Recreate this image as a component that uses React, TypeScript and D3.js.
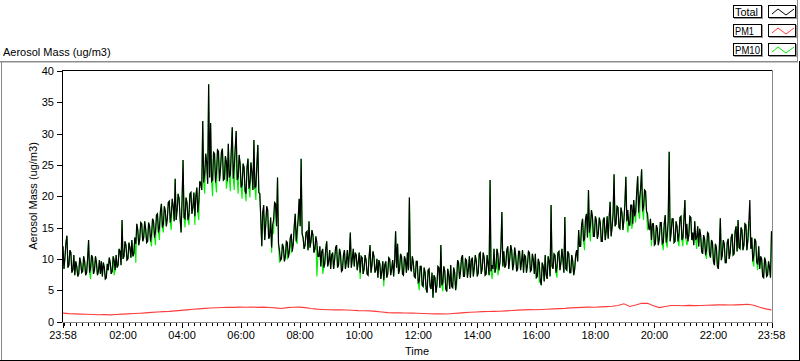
import React from "react";
import * as d3 from "d3";

// Total aerosol mass, one value every 2 minutes starting 23:58 (ug/m3)
const TOTAL_STEP_MIN = 2;
const totalVals = [
  12.0, 8.4, 10.2, 12.6, 13.7, 8.6, 9.0, 11.4, 11.0, 7.8, 8.2, 10.6, 7.4, 9.6, 8.8, 7.2, 7.6, 10.2, 9.4, 7.8,
  8.0, 10.4, 9.6, 7.4, 7.8, 10.0, 13.0, 7.8, 8.5, 10.6, 10.2, 7.6, 8.2, 10.4, 9.4, 7.4, 8.0, 9.8, 7.6, 9.6,
  7.2, 9.4, 8.6, 6.8, 7.0, 9.2, 8.2, 10.2, 9.4, 7.6, 8.0, 10.4, 9.8, 8.2, 10.6, 8.6, 9.0, 11.6, 11.2, 9.0,
  16.2, 10.0, 10.4, 12.8, 12.2, 9.8, 10.0, 12.6, 11.8, 10.2, 13.0, 10.4, 10.8, 13.4, 12.4, 15.6, 14.6, 12.2, 13.2, 15.8,
  15.6, 12.8, 13.4, 16.0, 14.8, 12.6, 12.8, 15.8, 15.2, 12.8, 14.0, 16.4, 16.0, 13.4, 14.4, 17.0, 17.2, 14.2, 15.0, 17.6,
  18.8, 15.0, 15.6, 18.4, 17.6, 15.2, 16.4, 19.0, 19.2, 15.8, 17.0, 19.6, 18.4, 16.0, 22.8, 16.2, 17.8, 20.4, 19.6, 16.4,
  14.2, 19.4, 25.8, 16.6, 16.4, 19.8, 19.0, 16.2, 17.0, 20.4, 20.6, 17.2, 18.2, 20.6, 16.8, 20.0, 21.4, 17.4, 19.2, 22.4,
  22.0, 21.0, 32.0, 22.2, 23.6, 26.8, 25.4, 22.0, 37.9, 23.0, 31.7, 22.4, 22.6, 27.0, 26.8, 22.2, 23.8, 27.4, 27.2, 22.4,
  24.2, 27.0, 27.6, 22.6, 22.8, 26.4, 25.6, 22.4, 28.4, 23.0, 23.4, 27.2, 31.0, 22.8, 24.8, 27.6, 30.4, 22.6, 23.0, 26.6,
  25.2, 21.4, 21.8, 25.2, 24.6, 20.8, 20.4, 24.6, 26.0, 21.2, 22.2, 25.4, 23.8, 21.0, 29.0, 21.4, 21.6, 25.0, 28.2, 20.6,
  20.4, 16.4, 12.0, 17.6, 18.6, 13.0, 15.4, 18.4, 17.8, 13.2, 13.6, 16.6, 11.8, 15.4, 16.2, 19.0, 18.8, 15.2, 23.0, 12.4,
  11.4, 9.8, 10.0, 12.4, 11.8, 9.6, 10.4, 12.8, 12.6, 10.2, 11.2, 13.4, 14.0, 11.2, 12.4, 15.2, 17.2, 12.8, 14.6, 16.4,
  19.6, 15.2, 26.0, 14.0, 13.4, 11.6, 12.2, 14.2, 14.4, 11.4, 16.0, 11.8, 12.8, 14.6, 13.8, 11.0, 11.6, 13.6, 12.6, 10.4,
  10.4, 12.0, 8.8, 11.2, 11.6, 8.6, 9.2, 11.6, 12.8, 8.8, 9.6, 11.4, 8.4, 10.6, 11.0, 8.4, 9.8, 11.8, 12.2, 8.6,
  9.0, 11.6, 10.8, 8.0, 8.2, 10.6, 11.4, 8.4, 9.6, 11.4, 8.6, 10.8, 14.2, 8.6, 10.0, 11.6, 8.8, 11.0, 10.6, 8.2,
  9.4, 11.0, 7.8, 10.4, 10.2, 7.6, 8.4, 10.6, 9.8, 7.6, 7.4, 10.2, 12.2, 7.8, 9.0, 11.2, 10.4, 7.8, 8.2, 10.0,
  7.0, 9.8, 9.2, 6.8, 8.0, 9.6, 6.6, 9.0, 9.6, 7.0, 7.6, 10.2, 10.0, 7.4, 8.4, 9.8, 7.2, 9.6, 14.4, 8.6,
  12.4, 7.6, 8.2, 10.8, 10.4, 7.6, 7.4, 10.4, 9.8, 7.8, 11.0, 8.2, 19.8, 8.6, 8.0, 10.4, 9.4, 7.2, 7.0, 9.6,
  9.6, 6.2, 6.4, 8.8, 8.8, 5.8, 5.6, 8.6, 7.8, 5.2, 4.6, 8.2, 8.4, 5.6, 5.2, 7.8, 3.8, 7.4, 7.0, 4.6,
  5.8, 8.8, 8.6, 5.4, 12.2, 5.8, 6.2, 8.8, 8.0, 5.2, 4.8, 8.4, 7.4, 5.2, 9.0, 5.6, 5.4, 8.6, 7.8, 5.0,
  6.6, 9.8, 9.4, 6.8, 8.0, 10.2, 10.6, 7.2, 7.2, 10.0, 9.8, 7.0, 8.4, 10.4, 7.0, 9.8, 10.2, 7.2, 8.6, 10.6,
  9.6, 7.2, 7.8, 10.8, 11.0, 7.6, 8.4, 11.0, 10.2, 7.4, 7.6, 10.6, 9.2, 7.4, 22.6, 8.0, 9.0, 8.4, 11.6, 7.8,
  8.6, 11.6, 10.8, 8.2, 9.4, 11.8, 17.5, 8.8, 11.2, 8.6, 9.0, 11.4, 12.0, 8.4, 10.0, 12.2, 11.4, 8.2, 9.2, 11.8,
  10.6, 8.0, 8.4, 11.2, 11.2, 8.2, 9.6, 11.4, 7.8, 10.6, 10.4, 7.8, 9.0, 11.2, 11.0, 8.0, 8.2, 10.8, 9.8, 7.6,
  10.8, 7.0, 7.2, 10.0, 9.4, 6.6, 5.8, 9.4, 8.8, 6.4, 10.6, 7.4, 6.8, 10.4, 9.6, 7.2, 18.6, 8.8, 8.4, 10.8,
  10.6, 7.8, 8.8, 11.0, 11.2, 8.2, 9.4, 11.6, 10.0, 7.8, 16.7, 8.4, 8.2, 11.2, 10.8, 7.8, 7.8, 10.6, 9.6, 7.4,
  8.4, 10.6, 11.4, 9.6, 14.6, 12.0, 12.0, 15.4, 16.4, 12.8, 13.2, 16.4, 17.2, 13.4, 21.0, 14.2, 15.4, 17.8, 16.8, 13.6,
  13.6, 16.8, 16.2, 13.2, 14.0, 16.6, 15.8, 12.8, 12.8, 16.2, 16.6, 13.0, 14.4, 16.8, 13.2, 16.6, 19.1, 13.6, 15.0, 17.2,
  23.5, 15.2, 15.6, 18.4, 18.2, 15.0, 14.8, 18.2, 17.4, 14.6, 16.2, 18.8, 23.1, 16.0, 17.8, 15.4, 15.4, 18.6, 18.6, 15.6,
  19.4, 16.8, 17.6, 20.6, 23.2, 17.4, 19.8, 21.2, 24.3, 17.6, 18.4, 21.0, 20.8, 17.6, 17.2, 15.2, 14.6, 16.4, 13.0, 15.6,
  15.6, 12.2, 12.4, 15.4, 14.8, 12.2, 13.2, 15.8, 15.8, 12.4, 12.6, 15.6, 17.0, 12.6, 13.8, 16.0, 27.1, 12.8, 14.2, 16.4,
  16.4, 12.6, 12.8, 16.0, 15.2, 12.8, 14.0, 16.6, 16.8, 13.0, 13.4, 16.4, 19.4, 13.2, 15.6, 12.8, 13.8, 16.8, 16.6, 13.0,
  14.2, 12.2, 16.0, 13.0, 13.4, 15.2, 12.0, 14.8, 13.8, 11.2, 10.8, 13.8, 13.2, 10.6, 11.4, 14.2, 14.0, 10.8, 10.2, 13.0,
  12.6, 9.6, 9.0, 12.4, 11.8, 8.8, 8.4, 11.8, 16.5, 9.8, 10.6, 13.0, 12.4, 9.4, 9.4, 12.6, 13.2, 10.0, 11.0, 13.4,
  14.0, 10.6, 10.8, 14.4, 15.2, 11.2, 16.2, 11.8, 11.6, 15.0, 14.6, 11.4, 12.2, 15.6, 15.4, 11.4, 13.0, 16.0, 19.4, 11.6,
  13.4, 9.6, 10.6, 13.2, 12.8, 9.4, 9.2, 12.0, 8.4, 10.4, 10.0, 7.2, 7.0, 10.2, 9.6, 7.2, 7.4, 9.6, 8.6, 7.0,
  14.4,
];

// PM10, same 2-minute sampling
const pm10Vals = [
  12.0, 8.4, 10.2, 12.6, 13.7, 8.6, 9.0, 11.4, 11.0, 7.8, 8.2, 10.6, 7.4, 9.6, 8.8, 7.2, 7.6, 10.2, 9.4, 7.8,
  8.0, 10.4, 9.6, 7.4, 7.8, 10.0, 13.0, 7.8, 6.8, 10.6, 10.2, 7.6, 8.2, 10.4, 9.4, 7.4, 8.0, 9.8, 7.6, 9.6,
  7.2, 9.4, 8.6, 6.8, 7.0, 9.2, 8.2, 10.2, 9.4, 7.6, 8.0, 10.4, 7.4, 8.2, 10.6, 8.6, 9.0, 11.6, 11.2, 9.0,
  16.2, 10.0, 10.4, 12.8, 12.2, 9.8, 10.0, 12.6, 11.8, 10.2, 13.0, 10.4, 10.8, 13.4, 9.4, 15.6, 14.6, 12.2, 13.2, 15.8,
  15.6, 12.8, 13.4, 16.0, 14.8, 12.6, 12.8, 15.8, 15.2, 12.8, 12.0, 16.4, 16.0, 13.4, 12.2, 17.0, 17.2, 14.2, 13.0, 17.6,
  18.8, 15.0, 14.2, 18.4, 17.6, 15.2, 16.4, 19.0, 19.2, 15.8, 14.6, 19.6, 18.4, 16.0, 22.8, 16.2, 17.8, 20.4, 19.6, 16.4,
  14.2, 19.4, 25.8, 16.6, 15.0, 19.8, 19.0, 16.2, 15.4, 20.4, 20.6, 17.2, 18.2, 20.6, 15.4, 20.0, 21.4, 17.4, 16.2, 22.4,
  22.0, 21.0, 32.0, 22.2, 20.4, 26.8, 25.4, 22.0, 37.9, 23.0, 31.7, 22.4, 20.0, 27.0, 26.8, 22.2, 20.6, 27.4, 27.2, 22.4,
  24.2, 27.0, 27.6, 22.6, 22.8, 26.4, 21.2, 22.4, 28.4, 23.0, 20.8, 27.2, 31.0, 22.8, 21.0, 27.6, 30.4, 22.6, 20.4, 26.6,
  25.2, 21.4, 19.6, 25.2, 24.6, 20.8, 19.2, 24.6, 26.0, 21.2, 19.8, 25.4, 23.8, 21.0, 29.0, 21.4, 19.4, 25.0, 28.2, 20.6,
  20.4, 16.4, 12.0, 17.6, 16.8, 13.0, 15.4, 18.4, 17.8, 13.2, 13.6, 16.6, 11.0, 15.4, 14.0, 19.0, 18.8, 15.2, 23.0, 12.4,
  9.4, 9.8, 10.0, 12.4, 11.8, 9.6, 10.4, 12.8, 10.0, 10.2, 11.2, 13.4, 11.0, 11.2, 12.4, 15.2, 17.2, 12.8, 12.4, 16.4,
  19.6, 15.2, 26.0, 14.0, 13.4, 11.6, 12.2, 14.2, 14.4, 11.4, 16.0, 11.8, 12.8, 14.6, 13.8, 11.0, 11.6, 13.6, 7.2, 10.4,
  10.4, 12.0, 8.8, 11.2, 7.6, 8.6, 9.2, 11.6, 12.8, 8.8, 9.6, 11.4, 8.4, 10.6, 11.0, 8.4, 9.8, 11.8, 12.2, 8.6,
  9.0, 11.6, 10.8, 8.0, 8.2, 10.6, 11.4, 8.4, 9.6, 11.4, 8.6, 10.8, 14.2, 8.6, 10.0, 11.6, 8.8, 11.0, 10.6, 8.2,
  9.4, 11.0, 6.8, 10.4, 10.2, 7.6, 8.4, 10.6, 9.8, 7.6, 7.4, 10.2, 12.2, 7.8, 9.0, 11.2, 10.4, 7.8, 8.2, 10.0,
  7.0, 9.8, 9.2, 6.8, 8.0, 9.6, 5.6, 9.0, 9.6, 7.0, 7.6, 10.2, 10.0, 7.4, 8.4, 9.8, 7.2, 9.6, 14.4, 8.6,
  12.4, 7.6, 8.2, 10.8, 10.4, 7.6, 7.4, 10.4, 9.8, 7.8, 11.0, 8.2, 19.8, 8.6, 8.0, 10.4, 9.4, 7.2, 7.0, 9.6,
  9.6, 6.2, 5.0, 8.8, 8.8, 5.8, 5.6, 8.6, 7.8, 5.2, 4.6, 8.2, 8.4, 5.6, 5.2, 7.8, 3.8, 7.4, 7.0, 4.6,
  5.8, 8.8, 8.6, 5.4, 12.2, 5.8, 4.8, 8.8, 8.0, 5.2, 4.8, 8.4, 7.4, 5.2, 9.0, 5.6, 5.4, 8.6, 7.8, 5.0,
  5.6, 9.8, 9.4, 6.8, 8.0, 10.2, 10.6, 7.2, 7.2, 10.0, 9.8, 7.0, 8.4, 10.4, 7.0, 9.8, 10.2, 7.2, 8.6, 10.6,
  9.6, 7.2, 7.8, 10.8, 11.0, 7.6, 8.4, 11.0, 10.2, 7.4, 7.6, 10.6, 9.2, 7.4, 22.6, 8.0, 6.8, 8.4, 11.6, 7.8,
  8.6, 11.6, 7.4, 8.2, 9.4, 11.8, 17.5, 8.8, 11.2, 8.6, 9.0, 11.4, 12.0, 8.4, 10.0, 12.2, 11.4, 8.2, 9.2, 11.8,
  10.6, 8.0, 8.4, 11.2, 11.2, 8.2, 9.6, 11.4, 7.8, 10.6, 10.4, 7.8, 9.0, 11.2, 11.0, 8.0, 8.2, 10.8, 9.8, 7.6,
  10.8, 7.0, 7.2, 10.0, 6.2, 6.6, 5.8, 9.4, 8.8, 6.4, 10.6, 7.4, 6.8, 10.4, 9.6, 7.2, 18.6, 8.8, 8.4, 10.8,
  10.6, 7.8, 7.0, 11.0, 11.2, 8.2, 9.4, 11.6, 10.0, 7.8, 16.7, 8.4, 8.2, 11.2, 10.8, 7.8, 7.8, 10.6, 9.6, 7.4,
  8.4, 10.6, 11.4, 9.6, 14.6, 12.0, 12.0, 15.4, 16.4, 12.8, 11.4, 16.4, 17.2, 13.4, 21.0, 14.2, 12.8, 17.8, 16.8, 13.6,
  13.6, 16.8, 16.2, 13.2, 14.0, 16.6, 15.8, 12.8, 12.8, 16.2, 16.6, 13.0, 14.4, 16.8, 13.2, 16.6, 19.1, 13.6, 15.0, 17.2,
  23.5, 15.2, 15.6, 18.4, 18.2, 15.0, 14.8, 18.2, 17.4, 14.6, 16.2, 18.8, 23.1, 16.0, 14.2, 15.4, 15.4, 18.6, 14.8, 15.6,
  19.4, 16.8, 15.8, 20.6, 23.2, 17.4, 16.4, 21.2, 24.3, 17.6, 16.2, 21.0, 20.8, 17.6, 14.6, 15.2, 14.6, 16.4, 12.0, 15.6,
  15.6, 12.2, 12.4, 15.4, 14.8, 12.2, 13.2, 15.8, 15.8, 12.4, 11.4, 15.6, 17.0, 12.6, 11.8, 16.0, 27.1, 12.8, 14.2, 16.4,
  16.4, 12.6, 12.8, 16.0, 15.2, 12.8, 12.0, 16.6, 16.8, 13.0, 12.0, 16.4, 19.4, 13.2, 12.2, 12.8, 13.8, 16.8, 16.6, 13.0,
  14.2, 12.2, 16.0, 13.0, 11.6, 15.2, 12.0, 14.8, 13.8, 11.2, 10.8, 13.8, 13.2, 10.6, 10.0, 14.2, 14.0, 10.8, 10.2, 13.0,
  12.6, 9.6, 9.0, 12.4, 11.8, 8.8, 8.4, 11.8, 16.5, 9.8, 10.6, 13.0, 12.4, 9.4, 9.4, 12.6, 13.2, 10.0, 11.0, 13.4,
  14.0, 10.6, 10.8, 14.4, 15.2, 11.2, 16.2, 11.8, 11.6, 15.0, 14.6, 11.4, 12.2, 15.6, 15.4, 11.4, 13.0, 16.0, 15.0, 11.6,
  13.4, 9.6, 8.8, 13.2, 12.8, 9.4, 8.2, 12.0, 8.4, 10.4, 10.0, 7.2, 7.0, 10.2, 9.6, 7.2, 7.4, 9.6, 8.6, 7.0,
  14.4,
];

// PM1, one value every 12 minutes
const PM1_STEP_MIN = 12;
const pm1Vals = [
  1.33, 1.25, 1.22, 1.18, 1.15, 1.12, 1.08, 1.10, 1.06, 1.12,
  1.18, 1.22, 1.28, 1.32, 1.38, 1.45, 1.52, 1.58, 1.62, 1.70,
  1.78, 1.86, 1.95, 2.02, 2.10, 2.16, 2.20, 2.24, 2.28, 2.26,
  2.30, 2.28, 2.32, 2.26, 2.30, 2.24, 2.18, 2.08, 2.22, 2.28,
  2.30, 2.22, 2.08, 1.98, 1.92, 1.88, 1.86, 1.88, 1.84, 1.80,
  1.74, 1.72, 1.70, 1.62, 1.52, 1.42, 1.38, 1.40, 1.36, 1.34,
  1.32, 1.28, 1.24, 1.22, 1.24, 1.20, 1.28, 1.34, 1.42, 1.48,
  1.52, 1.58, 1.60, 1.62, 1.64, 1.70, 1.76, 1.82, 1.86, 1.90,
  1.88, 1.92, 1.96, 2.02, 2.06, 2.10, 2.18, 2.22, 2.26, 2.30,
  2.28, 2.34, 2.38, 2.44, 2.55, 2.82, 2.40, 2.62, 2.92, 2.90,
  2.50, 2.22, 2.40, 2.55, 2.56, 2.52, 2.58, 2.54, 2.56, 2.60,
  2.62, 2.66, 2.68, 2.64, 2.66, 2.70, 2.76, 2.60, 2.28, 2.02, 1.85,
];

const yTicks = [0, 5, 10, 15, 20, 25, 30, 35, 40];
const xTickLabels = ["23:58", "02:00", "04:00", "06:00", "08:00", "10:00", "12:00", "14:00", "16:00", "18:00", "20:00", "22:00", "23:58"];
const xTickOffsets = [0, 122, 242, 362, 482, 602, 722, 842, 962, 1082, 1202, 1322, 1440];
const seriesNames = ["Total", "PM1", "PM10"];
const seriesColors = ["#000000", "#ff3c3c", "#00f000"];
const legendTextWidths = [23, 19, 25];

const FONT = "'Liberation Sans', Arial, sans-serif";

export default function App() {
  const W = 800;
  const H = 361;
  const left = 62, right = 772, top = 70, bottom = 322;
  const x = d3.scaleLinear().domain([0, 1440]).range([63, 771.5]);
  const y = d3.scaleLinear().domain([0, 40]).range([321.5, 71]);
  const mkLine = (vals: number[], step: number) =>
    d3.line<number>().x((_, i) => x(i * step)).y((v) => y(v))(vals) || "";

  const minorOffsets = d3.range(0, 120).map((k) => 2 + 12 * k);

  const legendRows = seriesNames.map((n, i) => ({ name: n, color: seriesColors[i], y0: 5 + i * 19, tw: legendTextWidths[i] }));
  const symbolPath = d3.line<[number, number]>()([[3, 8], [9, 3], [17, 9], [25, 3]]) || "";

  return (
    <svg width={W} height={H} style={{ position: "absolute", left: 0, top: 0, background: "#fff" }} fontFamily={FONT}>
      <defs>
        <clipPath id="plotclip">
          <rect x={left + 1} y={top + 1} width={right - left - 1} height={bottom - top - 1} />
        </clipPath>
      </defs>
      <rect x={0} y={0} width={W} height={H} fill="#fff" />
      {/* outer panel frame */}
      <line x1={0} x2={798} y1={61.5} y2={61.5} stroke="#8a8a8a" strokeWidth={1} />
      <line x1={0} x2={798} y1={62.5} y2={62.5} stroke="#c8c8c8" strokeWidth={1} />
      <line x1={1.5} x2={1.5} y1={61} y2={360} stroke="#8a8a8a" />
      <line x1={0} x2={800} y1={360.5} y2={360.5} stroke="#000" />
      <line x1={799.5} x2={799.5} y1={61} y2={361} stroke="#000" />
      <line x1={797.5} x2={797.5} y1={0} y2={62} stroke="#8a8a8a" />

      {/* title */}
      <text x={3} y={56} fontSize={11} fill="#000">Aerosol Mass (ug/m3)</text>

      {/* legend */}
      {legendRows.map((r) => (
        <g key={r.name}>
          <rect x={733.5} y={r.y0 + 0.5} width={28} height={12} fill="#fff" stroke="#000" />
          <line x1={762.5} x2={762.5} y1={r.y0 + 1} y2={r.y0 + 14} stroke="#9a9a9a" />
          <line x1={734} x2={763} y1={r.y0 + 13.5} y2={r.y0 + 13.5} stroke="#9a9a9a" />
          <text x={735} y={r.y0 + 10.5} fontSize={11} fill="#000" textLength={r.tw} lengthAdjust="spacingAndGlyphs">{r.name}</text>
          <rect x={768.5} y={r.y0 + 0.5} width={27} height={12} fill="#fff" stroke="#000" />
          <line x1={796.5} x2={796.5} y1={r.y0 + 1} y2={r.y0 + 14} stroke="#9a9a9a" />
          <line x1={769} x2={797} y1={r.y0 + 13.5} y2={r.y0 + 13.5} stroke="#9a9a9a" />
          <path d={symbolPath} transform={`translate(769,${r.y0 + 1})`} fill="none" stroke={r.color} strokeWidth={1} />
        </g>
      ))}

      {/* plot background and data */}
      <rect x={left} y={top} width={right - left} height={bottom - top} fill="#fff" />
      <g clipPath="url(#plotclip)">
        <path d={mkLine(pm10Vals, TOTAL_STEP_MIN)} fill="none" stroke={seriesColors[2]} strokeWidth={1.1} />
        <path d={mkLine(totalVals, TOTAL_STEP_MIN)} fill="none" stroke={seriesColors[0]} strokeWidth={1.2} />
        <path d={mkLine(pm1Vals, PM1_STEP_MIN)} fill="none" stroke={seriesColors[1]} strokeWidth={1.1} />
      </g>

      {/* plot frame */}
      <line x1={left + 0.5} x2={left + 0.5} y1={top} y2={bottom} stroke="#000" />
      <line x1={left} x2={right} y1={top + 0.5} y2={top + 0.5} stroke="#000" />
      <line x1={right + 0.5} x2={right + 0.5} y1={top} y2={bottom + 1} stroke="#8a8a8a" />
      <line x1={left} x2={right + 1} y1={bottom + 0.5} y2={bottom + 0.5} stroke="#8a8a8a" />

      {/* y axis */}
      {yTicks.map((t) => (
        <g key={t}>
          <line x1={57} x2={62} y1={Math.round(y(t)) + 0.5} y2={Math.round(y(t)) + 0.5} stroke="#000" />
          <text x={54} y={Math.round(y(t)) + 4} fontSize={11} textAnchor="end" fill="#000">{t}</text>
        </g>
      ))}
      <text transform="translate(36.5,196) rotate(-90)" fontSize={11} textAnchor="middle" fill="#000">Aerosol Mass (ug/m3)</text>

      {/* x axis */}
      {minorOffsets.map((m) => (
        <line key={m} x1={Math.round(x(m)) + 0.5} x2={Math.round(x(m)) + 0.5} y1={323} y2={326} stroke="#000" />
      ))}
      {xTickOffsets.map((m, i) => (
        <g key={i}>
          <line x1={Math.round(x(m)) + 0.5} x2={Math.round(x(m)) + 0.5} y1={323} y2={328} stroke="#000" />
          <text x={x(m)} y={339} fontSize={11} textAnchor="middle" fill="#000">{xTickLabels[i]}</text>
        </g>
      ))}
      <text x={417} y={355} fontSize={11} textAnchor="middle" fill="#000">Time</text>
    </svg>
  );
}
